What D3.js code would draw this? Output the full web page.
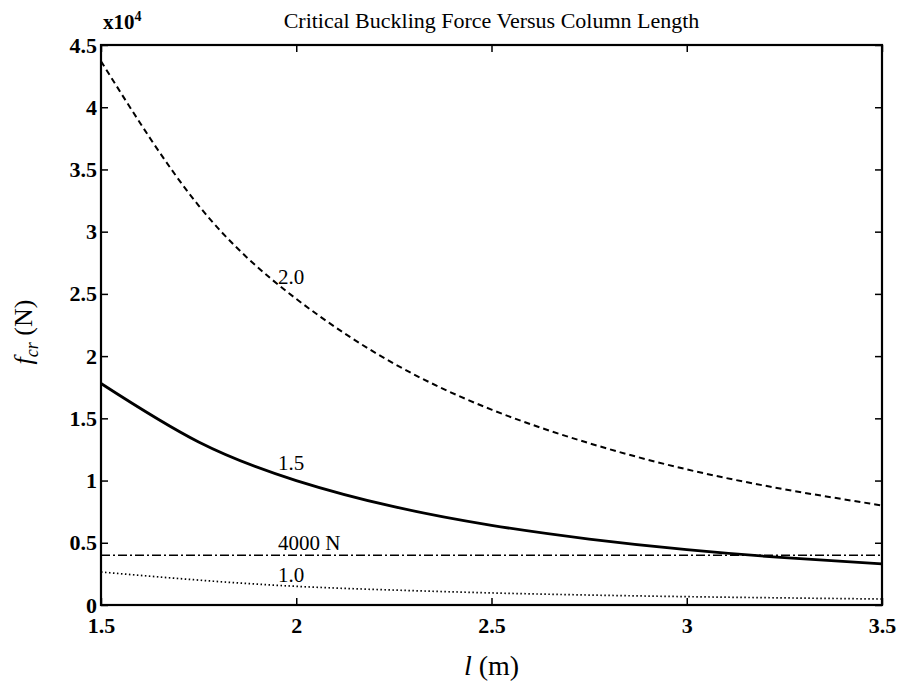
<!DOCTYPE html>
<html>
<head>
    <script src="https://d3js.org/d3.v7.min.js" charset="utf-8"></script>
    <style>
        body { margin: 0; background: white; }
        text { font-family: "Liberation Serif", "Times New Roman", serif; fill: black; }
    </style>
</head>
<body>
   <script>
        // column length (m)
        var lengths = [1.5, 1.75, 2.0, 2.25, 2.5, 2.75, 3.0, 3.25, 3.5];
        // critical force (N) for each curve
        var force20 = [43700, 32100, 24600, 19400, 15700, 13000, 10900, 9300, 8000];
        var force15 = [17800, 13100, 10000, 7900, 6400, 5300, 4450, 3800, 3300];
        var force10 = [2650, 2000, 1500, 1200, 970, 800, 670, 570, 480];
        var limitForce = [4000, 4000];
        var limitLengths = [1.5, 3.5];
        var xTicks = [1.5, 2, 2.5, 3, 3.5];
        var xTickLabels = ["1.5", "2", "2.5", "3", "3.5"];
        var yTicks = [0, 5000, 10000, 15000, 20000, 25000, 30000, 35000, 40000, 45000];
        var yTickLabels = ["0", "0.5", "1", "1.5", "2", "2.5", "3", "3.5", "4", "4.5"];
        var curveLabels = [
            { text: "2.0", x: 1.953, y: 26400 },
            { text: "1.5", x: 1.953, y: 11400 },
            { text: "4000 N", x: 1.953, y: 5000 },
            { text: "1.0", x: 1.953, y: 2400 }
        ];

        var pLeft = 101, pRight = 882, pTop = 45, pBottom = 605;

        var svg = d3.select("body")
            .append("svg")
            .attr("width", 897)
            .attr("height", 693);

        var x = d3.scaleLinear().domain([1.5, 3.5]).range([pLeft, pRight]);
        var y = d3.scaleLinear().domain([0, 45000]).range([pBottom, pTop]);

        // axes with inward ticks on all four sides
        svg.append("g")
            .attr("transform", "translate(0," + pBottom + ")")
            .call(d3.axisBottom(x).tickValues(xTicks).tickSizeInner(-7).tickSizeOuter(0).tickPadding(12)
                .tickFormat(function (d, i) { return xTickLabels[i]; }))
            .call(function (g) { g.select(".domain").remove(); })
            .selectAll("text")
            .style("font-size", "22px").style("font-weight", "bold")
            .style("font-family", "Liberation Serif");
        svg.append("g")
            .attr("transform", "translate(0," + pTop + ")")
            .call(d3.axisTop(x).tickValues(xTicks).tickSizeInner(-7).tickSizeOuter(0).tickFormat(""))
            .call(function (g) { g.select(".domain").remove(); });
        svg.append("g")
            .attr("transform", "translate(" + pLeft + ",0)")
            .call(d3.axisLeft(y).tickValues(yTicks).tickSizeInner(-7).tickSizeOuter(0).tickPadding(4)
                .tickFormat(function (d, i) { return yTickLabels[i]; }))
            .call(function (g) { g.select(".domain").remove(); })
            .selectAll("text")
            .style("font-size", "22px").style("font-weight", "bold")
            .style("font-family", "Liberation Serif");
        svg.append("g")
            .attr("transform", "translate(" + pRight + ",0)")
            .call(d3.axisRight(y).tickValues(yTicks).tickSizeInner(-7).tickSizeOuter(0).tickFormat(""))
            .call(function (g) { g.select(".domain").remove(); });
        svg.selectAll(".tick line").attr("stroke", "black").attr("stroke-width", 1.5);

        svg.append("rect")
            .attr("x", pLeft).attr("y", pTop)
            .attr("width", pRight - pLeft).attr("height", pBottom - pTop)
            .style("fill", "none").style("stroke", "black").style("stroke-width", 2.2);

        var line = d3.line()
            .x(function (d) { return x(d[0]); })
            .y(function (d) { return y(d[1]); })
            .curve(d3.curveNatural);

        function draw(vals, xs, dash, width) {
            svg.append("path")
                .datum(xs.map(function (v, i) { return [v, vals[i]]; }))
                .attr("d", line)
                .style("fill", "none")
                .style("stroke", "black")
                .style("stroke-width", width)
                .style("stroke-dasharray", dash);
        }
        draw(force20, lengths, "6,4", 2);
        draw(force15, lengths, null, 2.8);
        draw(limitForce, limitLengths, "9,3,2,3", 1.6);
        draw(force10, lengths, "1.5,2.5", 1.7);

        svg.selectAll("text.clabel")
            .data(curveLabels)
            .enter()
            .append("text")
            .attr("class", "clabel")
            .attr("x", function (d) { return x(d.x); })
            .attr("y", function (d) { return y(d.y); })
            .attr("dy", "0.35em")
            .style("font-size", "21px")
            .text(function (d) { return d.text; });

        // title and exponent
        svg.append("text")
            .attr("x", (pLeft + pRight) / 2).attr("y", 28)
            .attr("text-anchor", "middle")
            .style("font-size", "22px")
            .text("Critical Buckling Force Versus Column Length");
        var ex = svg.append("text")
            .attr("x", 103).attr("y", 29)
            .style("font-size", "21px").style("font-weight", "bold");
        ex.append("tspan").text("x10");
        ex.append("tspan").attr("dy", -8).style("font-size", "14px").text("4");

        // axis labels
        var yl = svg.append("text")
            .attr("transform", "translate(32,332) rotate(-90)")
            .attr("text-anchor", "middle")
            .style("font-size", "26px");
        yl.append("tspan").style("font-style", "italic").text("f");
        yl.append("tspan").attr("dy", 6).style("font-style", "italic").style("font-size", "18px").text("cr");
        yl.append("tspan").attr("dy", -6).text(" (N)");

        var xl = svg.append("text")
            .attr("x", (pLeft + pRight) / 2).attr("y", 675)
            .attr("text-anchor", "middle")
            .style("font-size", "28px");
        xl.append("tspan").style("font-style", "italic").text("l");
        xl.append("tspan").text(" (m)");
    </script>
</body>
</html>
